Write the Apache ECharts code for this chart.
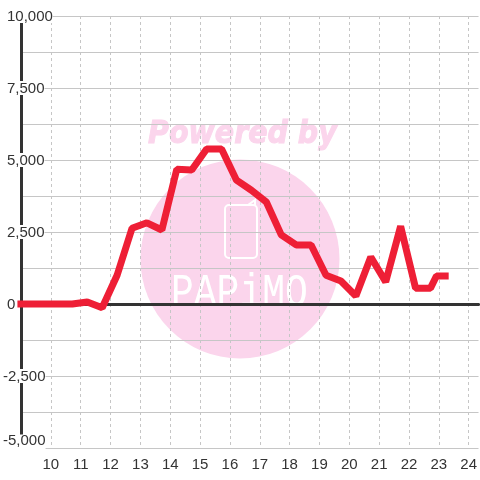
<!DOCTYPE html>
<html><head><meta charset="utf-8">
<style>html,body{margin:0;padding:0;background:#fff}#c{width:480px;height:480px}</style>
<script src="https://cdn.jsdelivr.net/npm/echarts@6/dist/echarts.min.js"></script>
</head><body><div id="c"></div>
<script>
const hours = [8.88,10.72,11.22,11.72,12.22,12.72,13.22,13.72,14.22,14.72,15.22,15.72,16.22,16.72,17.22,17.72,18.22,18.72,19.22,19.72,20.22,20.72,21.22,21.72,22.22,22.72,22.92,23.33];
const values = [0,0,70,-130,1000,2630,2820,2570,4680,4650,5380,5380,4300,3950,3540,2400,2050,2050,1000,800,280,1630,770,2700,550,550,970,970];
const yTicks = [-5000,-2500,0,2500,5000,7500,10000];
const fmt = new Intl.NumberFormat('en-US');
const ink = '#333333', grid = '#c6c6c6', pink = '#fbd5ec';
const base = {fontFamily:'Liberation Sans',fontSize:15,color:ink,backgroundColor:'#fff',height:12,lineHeight:12};
const chart = echarts.init(document.getElementById('c'), null, {renderer:'canvas'});
chart.setOption({
  animation:false,
  backgroundColor:'#ffffff',
  grid:{left:20,right:0,top:16,bottom:32,containLabel:false},
  xAxis:[{
    type:'value',min:9,max:24.33,interval:1,position:'bottom',
    axisLine:{show:false,onZero:false},axisTick:{show:false},
    axisLabel:{color:ink,fontFamily:'Liberation Sans',fontSize:15,margin:9,showMaxLabel:false,showMinLabel:false,
      formatter:v=>Number.isInteger(v)&&v>9?String(v):''},
    splitLine:{show:true,showMinLine:false,showMaxLine:false,lineStyle:{color:grid,width:1,type:[3,3]}}
  },{
    type:'value',min:9,max:24.33,interval:1,
    axisLine:{show:true,onZero:true,lineStyle:{color:ink,width:3}},
    axisTick:{show:false},axisLabel:{show:false},splitLine:{show:false}
  }],
  yAxis:{
    type:'value',min:-5000,max:10000,interval:1250,
    axisLine:{show:true,onZero:false,lineStyle:{color:ink,width:3}},axisTick:{show:false},
    axisLabel:{
      inside:true,align:'left',margin:-18,fontFamily:'Liberation Sans',fontSize:15,color:ink,
      showMinLabel:true,showMaxLabel:true,
      formatter:v=>{
        if(!yTicks.includes(v)) return '';
        if(v===-5000) return '{b|'+fmt.format(v)+'}';
        return v<0?'{n|'+fmt.format(v)+'}':'{p|'+fmt.format(v)+'}';
      },
      rich:{
        n:{...base,padding:[2,0,0,0]},
        p:{...base,padding:[2,0,0,4]},
        b:{...base,padding:[0,0,15,0]}
      }
    },
    splitLine:{show:true,lineStyle:{color:grid,width:1}}
  },
  graphic:[
    {type:'circle',z:-10,silent:true,shape:{cx:240,cy:259,r:99.5},style:{fill:pink}},
    {type:'text',z:-9,silent:true,x:148,y:119,scaleX:0.95,scaleY:1.05,style:{text:'Powered by',font:'italic bold 30px "DejaVu Sans"',fill:pink,stroke:pink,lineWidth:1}},
    {type:'text',z:-9,silent:true,x:171,y:271,scaleX:1,scaleY:1.2,style:{text:'PAPiMO',font:'38px "Liberation Mono"',fill:'#ffffff'}},
    {type:'rect',z:-9,silent:true,shape:{x:225,y:205,width:32,height:53,r:4},style:{fill:'none',stroke:'#ffffff',lineWidth:2}},
    {type:'polyline',z:-9,silent:true,shape:{points:[[248,205],[255,200],[255,205]]},style:{fill:'none',stroke:'#ffffff',lineWidth:2}}
  ],
  series:[{
    type:'line',xAxisIndex:0,yAxisIndex:0,symbol:'none',silent:true,clip:false,z:5,
    data:hours.map((h,i)=>[h,values[i]]),
    lineStyle:{color:'#ee1f36',width:7,cap:'butt',join:'bevel'}
  }]
});
</script></body></html>
